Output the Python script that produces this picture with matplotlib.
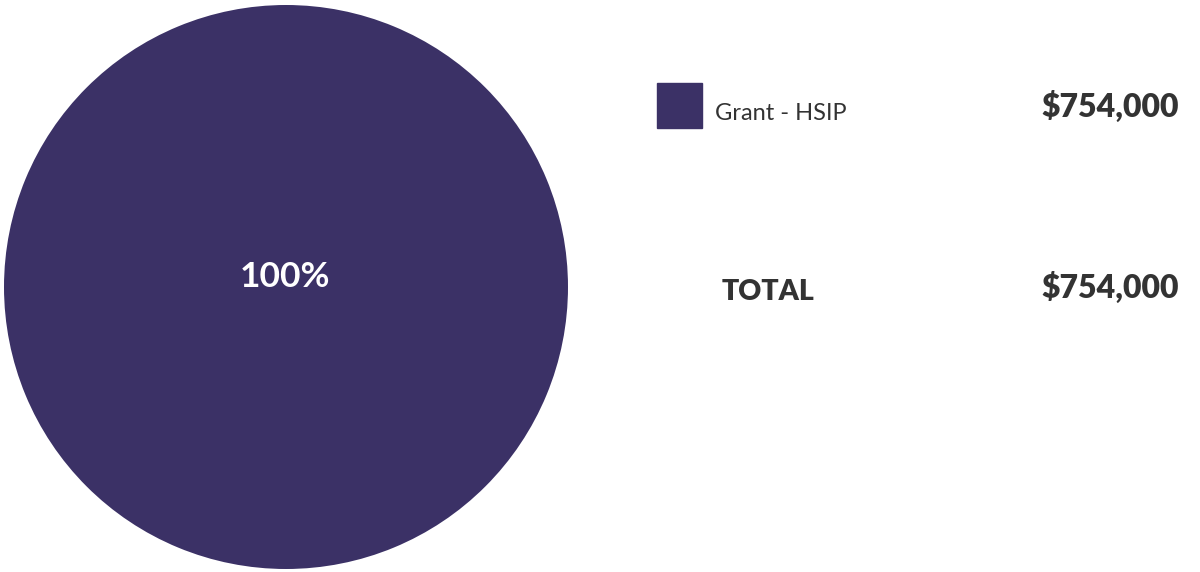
import matplotlib
matplotlib.use("Agg")
import matplotlib.pyplot as plt
from matplotlib.patches import Rectangle

categories = ["Grant - HSIP"]
values = [754000]
colors = ["#3b3166"]
total_label = "TOTAL"

W, H = 1200, 572
fig = plt.figure(figsize=(W / 100, H / 100), dpi=100)
fig.patch.set_facecolor("white")

def fx(x): return x / W
def fy(y): return 1 - y / H

# pie axes
cx, cy, r = 286, 572 - 287, 282
ax = fig.add_axes([(cx - r) / W, (cy - r) / H, 2 * r / W, 2 * r / H])
ax.pie(values, colors=colors, startangle=90, counterclock=False, radius=1.0,
       wedgeprops=dict(linewidth=0))
ax.set_xlim(-1, 1)
ax.set_ylim(-1, 1)
ax.set_aspect("equal")
ax.axis("off")
tot = sum(values)
for v in values:
    fig.text(fx(285), fy(287), f"{v / tot * 100:.0f}%", color="white", fontsize=25.5,
             fontweight="bold", family="Lato", ha="center", va="baseline")

txt = "#333333"

for i, (c, v, col) in enumerate(zip(categories, values, colors)):
    base = 119.5 + i * 60
    fig.patches.append(Rectangle((fx(657), fy(128)), 45 / W, 45 / H,
                                 transform=fig.transFigure, color=col, zorder=2))
    fig.text(fx(715), fy(base), c, color=txt, fontsize=17, family="Lato",
             ha="left", va="baseline")
    fig.text(fx(1179), fy(base - 2.5), f"${v:,.0f}", color=txt, fontsize=23,
             fontweight="heavy", family="Lato", ha="right", va="baseline")

fig.text(fx(722), fy(299.5), total_label, color=txt, fontsize=20.5, fontweight="heavy",
         family="Lato", ha="left", va="baseline")
fig.text(fx(1179), fy(297.5), f"${tot:,.0f}", color=txt, fontsize=23,
         fontweight="heavy", family="Lato", ha="right", va="baseline")

fig.savefig("out.png", dpi=100, facecolor="white")
